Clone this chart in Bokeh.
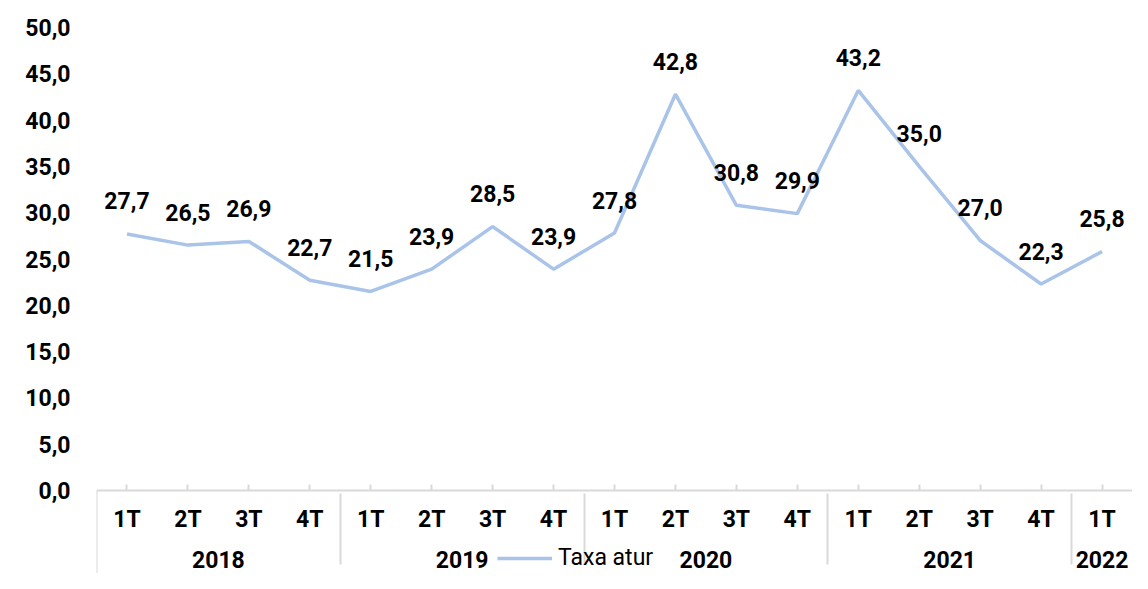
from bokeh.plotting import figure
from bokeh.models import (FactorRange, ColumnDataSource, Legend, LegendItem,
                          CustomJSTickFormatter, FixedTicker)
from bokeh.embed import file_html
from bokeh.resources import INLINE
from bokeh.core.properties import value

years = ["2018", "2019", "2020", "2021", "2022"]
quarters = [["1T", "2T", "3T", "4T"], ["1T", "2T", "3T", "4T"], ["1T", "2T", "3T", "4T"],
            ["1T", "2T", "3T", "4T"], ["1T"]]
values = [27.7, 26.5, 26.9, 22.7, 21.5, 23.9, 28.5, 23.9, 27.8, 42.8, 30.8, 29.9,
          43.2, 35.0, 27.0, 22.3, 25.8]
y_ticks = [0, 5, 10, 15, 20, 25, 30, 35, 40, 45, 50]
series_name = "Taxa atur"

FONT = "Roboto"
LINE_COLOR = "#A9C4E8"
AXIS_GREY = "#D9D9D9"

# layout (pixels)
W, H = 1132, 573
TOP, ZERO_Y, LEFT = 27, 490, 96
y_top = 50
y_bottom = -y_top * (H - ZERO_Y) / (ZERO_Y - TOP)

factors = [(y, q) for y, qs in zip(years, quarters) for q in qs]
labels = [f"{v:.1f}".replace(".", ",") for v in values]
src = ColumnDataSource(dict(x=factors, y=values, label=labels))

p = figure(x_range=FactorRange(*factors, factor_padding=0, group_padding=0, range_padding=0),
           y_range=(y_bottom, y_top), width=W, height=H, output_backend="svg",
           toolbar_location=None, min_border_left=LEFT, min_border_top=TOP,
           min_border_right=0, min_border_bottom=0)
p.outline_line_color = None
p.xgrid.grid_line_color = None
p.ygrid.grid_line_color = None

# left edge of the category axis
edge = factors[0] + (-0.5,)
p.segment(x0=[edge], y0=[0], x1=[edge], y1=[y_bottom], line_color=AXIS_GREY, line_width=2)

line_r = p.line(x="x", y="y", source=src, line_color=LINE_COLOR, line_width=3.5)
p.text(x="x", y="y", text="label", source=src, y_offset=-33, text_align="center",
       text_baseline="middle", text_font=value(FONT), text_font_size="23px",
       text_font_style="bold", text_color="black")

ya = p.yaxis[0]
ya.ticker = FixedTicker(ticks=y_ticks)
ya.formatter = CustomJSTickFormatter(code="return tick.toFixed(1).replace('.', ',');")
ya.axis_line_color = None
ya.major_tick_line_color = None
ya.minor_tick_line_color = None
ya.major_tick_out = 0
ya.major_tick_in = 0
ya.major_label_standoff = 26
ya.major_label_text_font = FONT
ya.major_label_text_font_size = "23px"
ya.major_label_text_font_style = "bold"
ya.major_label_text_color = "black"

xa = p.xaxis[0]
xa.fixed_location = 0
xa.axis_line_color = AXIS_GREY
xa.axis_line_width = 2
xa.major_tick_in = 6
xa.major_tick_out = 0
xa.major_tick_line_color = AXIS_GREY
xa.major_tick_line_width = 2
xa.separator_line_color = AXIS_GREY
xa.separator_line_width = 2
xa.major_label_standoff = 15
xa.major_label_text_font = FONT
xa.major_label_text_font_size = "23px"
xa.major_label_text_font_style = "bold"
xa.major_label_text_color = "black"
xa.group_text_font = FONT
xa.group_text_font_size = "23px"
xa.group_text_font_style = "bold"
xa.group_text_color = "black"

legend = Legend(items=[LegendItem(label=series_name, renderers=[line_r])],
                location=(401, 2), orientation="horizontal", glyph_width=55,
                glyph_height=24, label_text_font=FONT, label_text_font_size="23px",
                label_text_color="black", padding=0, margin=0, border_line_color=None,
                background_fill_alpha=0, label_standoff=6)
p.add_layout(legend, "center")

open("out.html", "w").write(file_html(p, INLINE))
